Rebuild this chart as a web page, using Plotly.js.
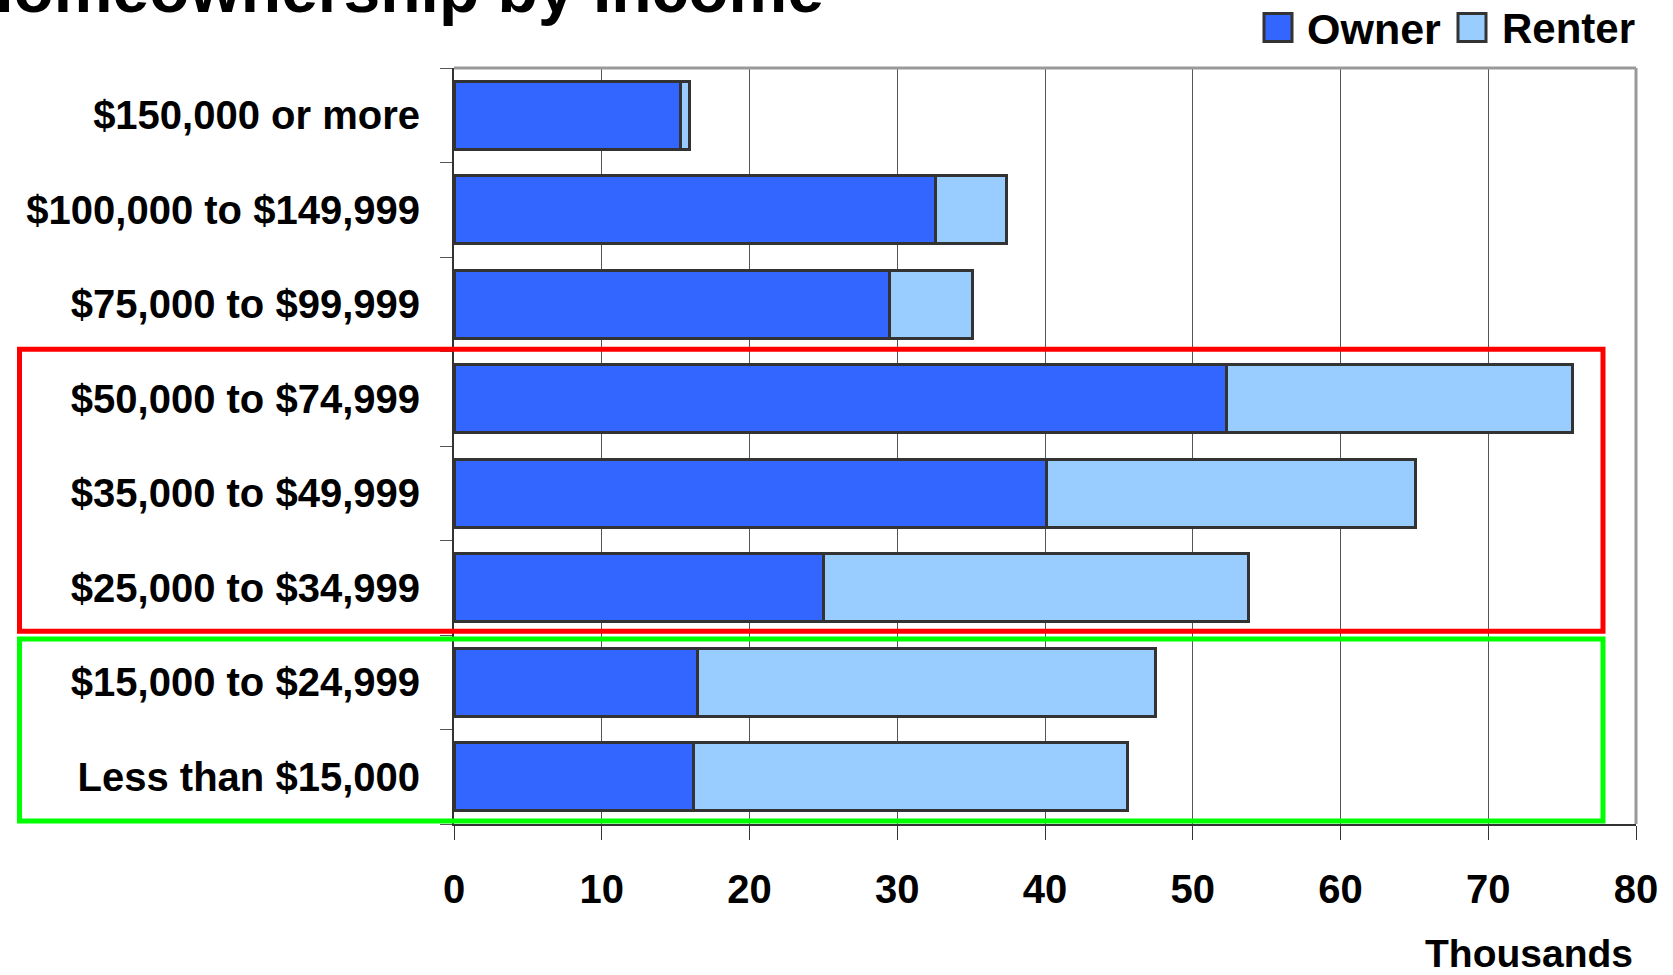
<!DOCTYPE html>
<html>
<head>
<meta charset="utf-8">
<script src="https://cdn.plot.ly/plotly-3.0.1.min.js"></script>
<style>html,body{margin:0;padding:0;background:#fff;}#chart{width:1673px;height:975px;}</style>
</head>
<body>
<div id="chart"></div>
<script>
// Income categories (bottom to top as drawn)
const categories = [
  "Less than $15,000",
  "$15,000 to $24,999",
  "$25,000 to $34,999",
  "$35,000 to $49,999",
  "$50,000 to $74,999",
  "$75,000 to $99,999",
  "$100,000 to $149,999",
  "$150,000 or more"
];
// Values in thousands
const ownerValues  = [16.2, 16.5, 25.0, 40.1, 52.3, 29.5, 32.6, 15.3];
const renterValues = [29.4, 31.0, 28.8, 25.0, 23.4,  5.6,  4.8,  0.65];
const xTickValues = [0, 10, 20, 30, 40, 50, 60, 70, 80];
const seriesNames = ["Owner", "Renter"];

const FONT = "Liberation Sans, Arial, Helvetica, sans-serif";
const ownerColor = "#3366FF", renterColor = "#99CCFF", edge = "#333333";

const L = 454, R = 1636, T = 67.5, B = 824, W = 1673, H = 975;
const px = x => (x - L) / (R - L);
const py = y => (B - y) / (B - T);

const traces = [
  {type: "bar", orientation: "h", name: seriesNames[0], y: categories, x: ownerValues,
   marker: {color: ownerColor, line: {color: edge, width: 3}}, showlegend: false},
  {type: "bar", orientation: "h", name: seriesNames[1], y: categories, x: renterValues,
   marker: {color: renterColor, line: {color: edge, width: 3}}, showlegend: false}
];

const layout = {
  width: W, height: H,
  margin: {l: L, r: W - R, t: T, b: H - B, pad: 0},
  paper_bgcolor: "#fff", plot_bgcolor: "#fff",
  barmode: "stack", bargap: 0.28,
  font: {family: FONT, color: "#000"},
  title: {text: "Homeownership by Income", font: {family: FONT, size: 66, weight: "bold", color: "#000"},
          xref: "container", x: 824 / W, xanchor: "right",
          yref: "paper", y: 1, yanchor: "bottom", pad: {b: 56}},
  xaxis: {range: [0, 80], tickvals: xTickValues, ticktext: xTickValues.map(String),
          showgrid: true, gridcolor: "#555", gridwidth: 1, zeroline: false,
          showline: true, linecolor: "#333", linewidth: 2,
          ticks: "outside", ticklen: 14, tickcolor: "#333", tickwidth: 1,
          ticklabelstandoff: 15,
          tickfont: {family: FONT, size: 40, weight: "bold", color: "#000"}, fixedrange: true},
  yaxis: {type: "category", categoryorder: "array", categoryarray: categories,
          showgrid: false, zeroline: false, showline: true, linecolor: "#333", linewidth: 2,
          ticks: "outside", tickson: "boundaries", ticklen: 12, tickcolor: "#555", tickwidth: 1,
          ticklabelstandoff: 24,
          tickfont: {family: FONT, size: 40, weight: "bold", color: "#000"}, fixedrange: true},
  shapes: [
    // top and right frame lines
    {type: "line", xref: "paper", yref: "paper", x0: 0, x1: 1, y0: 1, y1: 1, line: {color: "#999", width: 3}},
    {type: "line", xref: "paper", yref: "paper", x0: 1, x1: 1, y0: 0, y1: 1, line: {color: "#999", width: 3}},
    // highlight boxes
    {type: "rect", xref: "paper", yref: "paper", x0: px(19.5), x1: px(1603), y0: py(631), y1: py(349),
     line: {color: "#FF0000", width: 5}},
    {type: "rect", xref: "paper", yref: "paper", x0: px(19.5), x1: px(1603), y0: py(821), y1: py(639),
     line: {color: "#00FF00", width: 5}},
    // legend swatches
    {type: "rect", xref: "paper", yref: "paper", x0: px(1264), x1: px(1292), y0: py(41), y1: py(13),
     fillcolor: ownerColor, line: {color: edge, width: 3}},
    {type: "rect", xref: "paper", yref: "paper", x0: px(1458), x1: px(1486), y0: py(41), y1: py(13),
     fillcolor: renterColor, line: {color: edge, width: 3}}
  ],
  annotations: [
    {text: seriesNames[0], xref: "paper", yref: "paper", x: px(1305), y: py(28), xanchor: "left", yanchor: "middle",
     showarrow: false, font: {family: FONT, size: 43, weight: "bold", color: "#000"}},
    {text: seriesNames[1], xref: "paper", yref: "paper", x: px(1500), y: py(28), xanchor: "left", yanchor: "middle",
     showarrow: false, font: {family: FONT, size: 42, weight: "bold", color: "#000"}},
    {text: "Thousands", xref: "paper", yref: "paper", x: px(1635), y: py(954), xanchor: "right", yanchor: "middle",
     showarrow: false, font: {family: FONT, size: 39, weight: "bold", color: "#000"}}
  ]
};

Plotly.newPlot("chart", traces, layout, {displayModeBar: false, staticPlot: true});
</script>
</body>
</html>
